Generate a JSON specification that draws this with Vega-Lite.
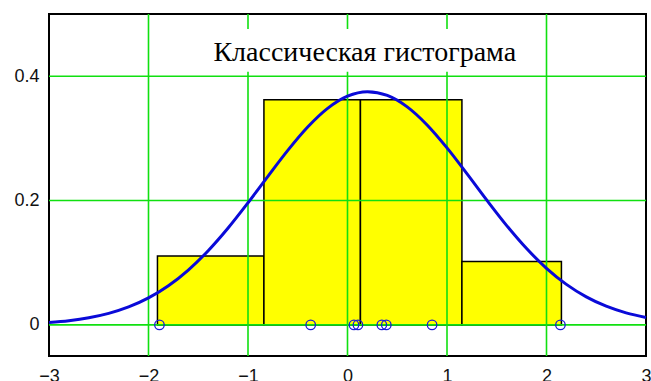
{
  "$schema": "https://vega.github.io/schema/vega-lite/v6.json",
  "autosize": {"type": "none"},
  "width": 597,
  "height": 342,
  "padding": {"left": 49, "top": 14, "right": 5, "bottom": 25},
  "background": "white",
  "config": {
    "view": {"stroke": "black", "strokeWidth": 2},
    "axis": {"grid": false, "domain": false, "ticks": false, "labelFont": "Liberation Sans", "labelFontSize": 18, "labelColor": "#111", "title": null}
  },
  "datasets": {
    "bins": [
      {"x0": -1.91, "x1": -0.84, "density": 0.111},
      {"x0": -0.84, "x1": 0.13, "density": 0.362},
      {"x0": 0.13, "x1": 1.15, "density": 0.362},
      {"x0": 1.15, "x1": 2.15, "density": 0.102}
    ],
    "xgrid": [{"g": -2}, {"g": -1}, {"g": 0}, {"g": 1}, {"g": 2}],
    "ygrid": [{"g": 0}, {"g": 0.2}, {"g": 0.4}],
    "curve": [
      {"x": -3.0, "f": 0.00396}, {"x": -2.8, "f": 0.00686}, {"x": -2.6, "f": 0.01146},
      {"x": -2.4, "f": 0.0185}, {"x": -2.2, "f": 0.02884}, {"x": -2.0, "f": 0.04338},
      {"x": -1.8, "f": 0.06296}, {"x": -1.6, "f": 0.08823}, {"x": -1.4, "f": 0.11935},
      {"x": -1.2, "f": 0.15584}, {"x": -1.0, "f": 0.19641}, {"x": -0.8, "f": 0.23897},
      {"x": -0.6, "f": 0.28066}, {"x": -0.4, "f": 0.31817}, {"x": -0.2, "f": 0.34817},
      {"x": 0.0, "f": 0.36777}, {"x": 0.2, "f": 0.375}, {"x": 0.4, "f": 0.36907},
      {"x": 0.6, "f": 0.35064}, {"x": 0.8, "f": 0.32156}, {"x": 1.0, "f": 0.28464},
      {"x": 1.2, "f": 0.24324}, {"x": 1.4, "f": 0.20063}, {"x": 1.6, "f": 0.15974},
      {"x": 1.8, "f": 0.12278}, {"x": 2.0, "f": 0.09107}, {"x": 2.2, "f": 0.06521},
      {"x": 2.4, "f": 0.04509}, {"x": 2.6, "f": 0.03009}, {"x": 2.8, "f": 0.01938},
      {"x": 3.0, "f": 0.01205}
    ],
    "points": [
      {"v": -1.89}, {"v": -0.37}, {"v": 0.065}, {"v": 0.105},
      {"v": 0.345}, {"v": 0.39}, {"v": 0.85}, {"v": 2.14}
    ]
  },
  "layer": [
    {
      "data": {"name": "bins"},
      "mark": {"type": "rect", "fill": "#ffff00", "stroke": "black", "strokeWidth": 1.5},
      "encoding": {
        "x": {"field": "x0", "type": "quantitative", "scale": {"domain": [-3, 3], "nice": false, "zero": false},
              "axis": {"values": [-3, -2, -1, 0, 1, 2, 3], "format": "d", "labelPadding": 11, "labelFlush": false}},
        "x2": {"field": "x1"},
        "y": {"field": "density", "type": "quantitative", "scale": {"domain": [-0.05, 0.5], "nice": false, "zero": false},
              "axis": {"values": [0, 0.2, 0.4], "labelPadding": 10, "labelExpr": "datum.value == 0 ? '0' : format(datum.value, '.1f')"}},
        "y2": {"datum": 0}
      }
    },
    {
      "data": {"name": "xgrid"},
      "mark": {"type": "rule", "color": "#10e010", "strokeWidth": 1.6},
      "encoding": {"x": {"field": "g", "type": "quantitative"}}
    },
    {
      "data": {"name": "ygrid"},
      "mark": {"type": "rule", "color": "#10e010", "strokeWidth": 1.6},
      "encoding": {"y": {"field": "g", "type": "quantitative"}}
    },
    {
      "data": {"values": [{}]},
      "mark": {"type": "rect", "fill": "white"},
      "encoding": {
        "x": {"datum": -1.43, "type": "quantitative"},
        "x2": {"datum": 1.78},
        "y": {"datum": 0.407, "type": "quantitative"},
        "y2": {"datum": 0.476}
      }
    },
    {
      "data": {"values": [{}]},
      "mark": {"type": "text", "text": "Классическая гистограма", "font": "Liberation Serif", "fontSize": 28, "align": "center", "baseline": "alphabetic", "color": "black"},
      "encoding": {
        "x": {"datum": 0.173, "type": "quantitative"},
        "y": {"datum": 0.424, "type": "quantitative"}
      }
    },
    {
      "data": {"name": "curve"},
      "mark": {"type": "line", "color": "#0a0ad8", "strokeWidth": 3, "interpolate": "monotone"},
      "encoding": {
        "x": {"field": "x", "type": "quantitative"},
        "y": {"field": "f", "type": "quantitative"}
      }
    },
    {
      "data": {"name": "points"},
      "mark": {"type": "point", "shape": "circle", "filled": false, "color": "#1a1ad8", "strokeWidth": 1.3, "size": 90, "opacity": 1},
      "encoding": {
        "x": {"field": "v", "type": "quantitative"},
        "y": {"datum": 0, "type": "quantitative"}
      }
    }
  ]
}
